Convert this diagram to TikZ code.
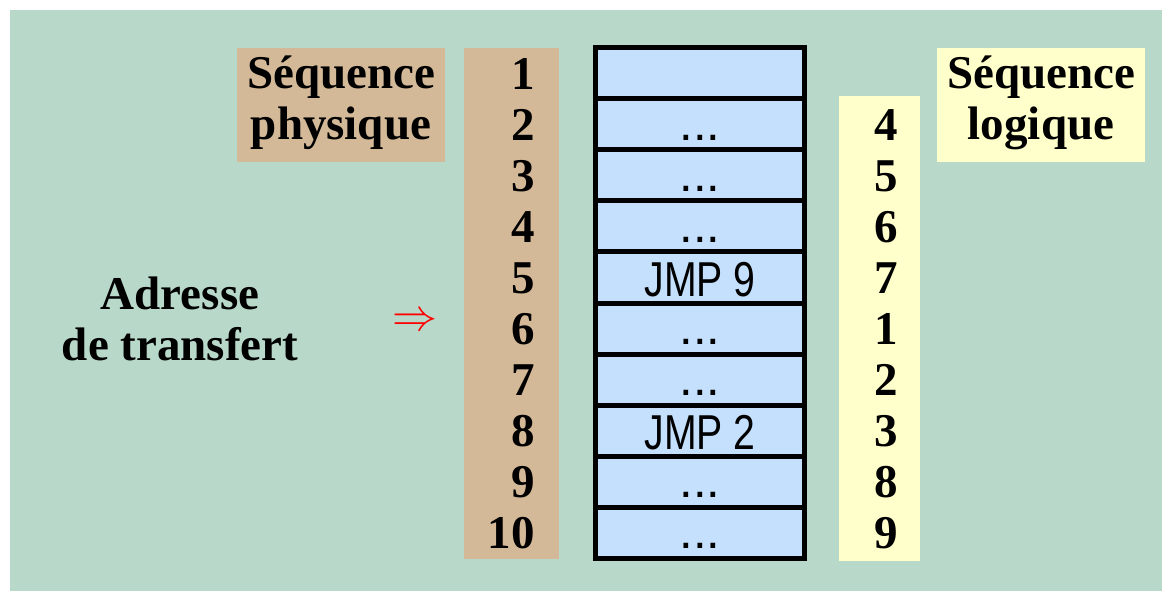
\documentclass[tikz,border=0pt]{standalone}
\usepackage{fontspec}
\setmainfont{Liberation Serif}
\newfontfamily\narrowsans[FakeStretch=0.8]{Liberation Sans}
\newfontfamily\plainsans{Liberation Sans}
\definecolor{bggreen}{RGB}{184,217,202}
\definecolor{tanbox}{RGB}{212,185,152}
\definecolor{yelbox}{RGB}{255,255,204}
\definecolor{cellblue}{RGB}{197,224,252}
\newcommand{\celldots}{...}
\begin{document}
\begin{tikzpicture}[x=1pt,y=-1pt,
  bigtxt/.style={font=\fontsize{47}{51}\selectfont\bfseries, inner sep=0pt},
  cellbox/.style={draw=black, line width=5pt, fill=cellblue, minimum width=209pt, minimum height=51.1pt, inner sep=0pt, anchor=center},
  jmptxt/.style={font=\fontsize{49}{51}\selectfont\narrowsans, text height=38pt, text depth=0pt},
  dottxt/.style={font=\fontsize{49}{51}\selectfont\plainsans, text height=32pt, text depth=0pt},
  numL/.style={bigtxt, anchor=base east},
  numR/.style={bigtxt, anchor=base},
]
\useasboundingbox (0,0) rectangle (1162,591);
\fill[white] (0,0) rectangle (1162,591);
\fill[bggreen] (10,10) rectangle (1162,591);
% label boxes
\fill[tanbox] (237,48) rectangle (445,162);
\fill[yelbox] (937,48) rectangle (1145,162);
\node[bigtxt, anchor=base] (physA) at (341,89) {Séquence};
\node[bigtxt, anchor=base] (physB) at (341,140) {physique};
\node[bigtxt, anchor=base] (logA) at (1041,89) {Séquence};
\node[bigtxt, anchor=base] (logB) at (1041,140) {logique};
% number columns
\fill[tanbox] (464,48) rectangle (559,559);
\fill[yelbox] (839,96) rectangle (920,561);
\foreach \i in {1,2,3,4,5,6,7,8,9,10}{
  \node[numL] (p\i) at (535,{47.5+51.1*(\i-0.5)+16}) {\i};
}
\foreach \i/\v in {2/4,3/5,4/6,5/7,6/1,7/2,8/3,9/8,10/9}{
  \node[numR] (l\i) at (886,{47.5+51.1*(\i-0.5)+16}) {\v};
}
% memory cells
\node[cellbox] (cell1) at (700,{47.5+51.1*0.5}) {};
\foreach \i in {2,3,4,6,7,9,10}{
  \node[cellbox, dottxt] (cell\i) at (700,{47.5+51.1*(\i-0.5)}) {\celldots};
}
\node[cellbox, jmptxt] (cell5) at (700,{47.5+51.1*4.5}) {JMP 9};
\node[cellbox, jmptxt] (cell8) at (700,{47.5+51.1*7.5}) {JMP 2};
% transfer address
\node[bigtxt, anchor=base] (adrA) at (180,309) {Adresse};
\node[bigtxt, anchor=base] (adrB) at (180,360) {de transfert};
\node[inner sep=0pt, text=red] (arrow) at (415,322) {\resizebox{45pt}{!}{$\Rightarrow$}};
\end{tikzpicture}
\end{document}
